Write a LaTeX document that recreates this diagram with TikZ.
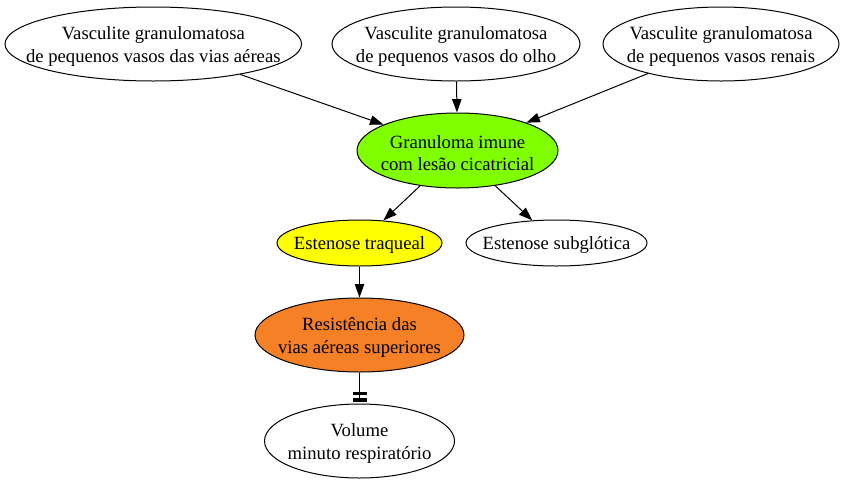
\documentclass[tikz,border=0pt]{standalone}
\usepackage{fontspec}
\setmainfont{Liberation Serif}
\usetikzlibrary{shapes.geometric,arrows.meta}
\definecolor{gvgreen}{RGB}{127,255,0}
\definecolor{gvyellow}{RGB}{255,255,0}
\definecolor{gvorange}{RGB}{245,128,37}
\tikzset{
  ell/.style={draw=black, line width=1pt, ellipse, inner sep=0pt},
  txt/.style={align=center, inner sep=0pt, yshift=-2.5pt, font=\fontsize{18.67}{22.4}\selectfont},
  edge/.style={draw=black, line width=1pt, -{Triangle[length=13.5pt,width=9.5pt]}},
  teeedge/.style={draw=black, line width=1pt, shorten >=2pt,
    -{Rectangle[length=3.3pt,width=14pt,sep=3.4pt]Rectangle[length=3.3pt,width=14pt]}}
}
\begin{document}
\begin{tikzpicture}[x=1pt,y=-1pt]
\useasboundingbox (0,0) rectangle (848,485);
% nodes
\node[ell, minimum width=296.6pt, minimum height=74pt] (a) at (153.3,44) {};
\node[txt] (at) at (a) {Vasculite granulomatosa\\de pequenos vasos das vias aéreas};
\node[ell, minimum width=248pt, minimum height=74pt] (b) at (456,44) {};
\node[txt] (bt) at (b) {Vasculite granulomatosa\\de pequenos vasos do olho};
\node[ell, minimum width=236pt, minimum height=74pt] (c) at (721,44) {};
\node[txt] (ct) at (c) {Vasculite granulomatosa\\de pequenos vasos renais};
\node[ell, fill=gvgreen, minimum width=201pt, minimum height=75pt] (g) at (457.5,150.5) {};
\node[txt] (gt) at (g) {Granuloma imune\\com lesão cicatricial};
\node[ell, fill=gvyellow, minimum width=165pt, minimum height=46pt] (t) at (359.5,243) {};
\node[txt] (tt) at (t) {Estenose traqueal};
\node[ell, minimum width=181pt, minimum height=46pt] (s) at (556.5,243) {};
\node[txt] (st) at (s) {Estenose subglótica};
\node[ell, fill=gvorange, minimum width=209pt, minimum height=74pt] (r) at (359.5,335) {};
\node[txt] (rt) at (r) {Resistência das\\vias aéreas superiores};
\node[ell, minimum width=190pt, minimum height=74pt] (v) at (359.5,441) {};
\node[txt] (vt) at (v) {Volume\\minuto respiratório};
% edges
\draw[edge] (a) -- (g);
\draw[edge] (b) -- (g);
\draw[edge] (c) -- (g);
\draw[edge] (g) -- (t);
\draw[edge] (g) -- (s);
\draw[edge] (t) -- (r);
\draw[teeedge] (r) -- (v);
\end{tikzpicture}
\end{document}
